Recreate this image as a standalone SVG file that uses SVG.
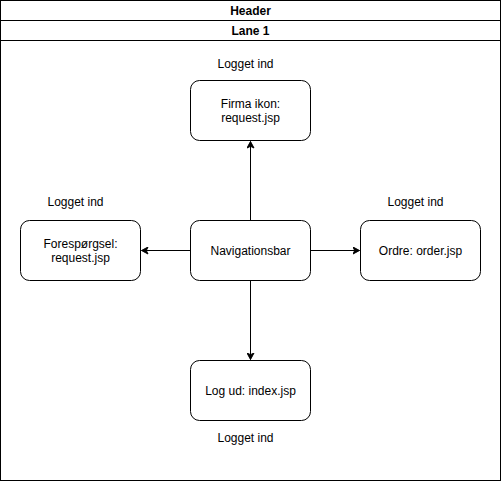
<svg xmlns="http://www.w3.org/2000/svg" width="501" height="481" viewBox="0 0 501 481">
<style>
text{font-family:"Liberation Sans",Arial,sans-serif;font-size:12px;fill:#000;text-anchor:middle}
.b{font-weight:bold}
.n{fill:#fff;stroke:#000;stroke-width:1}
.c{stroke:#000;stroke-width:1;fill:none;marker-end:url(#a)}
</style>
<defs>
<marker id="a" markerWidth="8" markerHeight="8" refX="7" refY="4" orient="auto" markerUnits="userSpaceOnUse">
<path d="M0.5,0.5 L7,4 L0.5,7.5 L2.2,4 Z" fill="#000" stroke="#000" stroke-width="1"/>
</marker>
</defs>
<rect width="501" height="481" fill="#fff"/>
<g id="pool">
<rect x="0.5" y="0.5" width="500" height="480" fill="#fff" stroke="#000"/>
<line x1="0.5" y1="20.5" x2="500.5" y2="20.5" stroke="#000"/>
<line x1="0.5" y1="40.5" x2="500.5" y2="40.5" stroke="#000"/>
<text class="b" x="250.5" y="15">Header</text>
<text class="b" x="250.5" y="35">Lane 1</text>
</g>
<g id="connectors">
<path class="c" d="M250.5,220.5 V141.5"/>
<path class="c" d="M190.5,250.5 H141.5"/>
<path class="c" d="M310.5,250.5 H359.5"/>
<path class="c" d="M250.5,280.5 V359.5"/>
</g>
<g id="nav">
<rect class="n" x="190.5" y="220.5" width="120" height="60" rx="9"/>
<text x="250.5" y="254.5">Navigationsbar</text>
</g>
<g id="firma">
<rect class="n" x="190.5" y="80.5" width="120" height="60" rx="9"/>
<text x="250.5" y="107.5">Firma ikon:</text>
<text x="250.5" y="121.5">request.jsp</text>
<text x="245.5" y="67.5">Logget ind</text>
</g>
<g id="forespoergsel">
<rect class="n" x="20.5" y="220.5" width="120" height="60" rx="9"/>
<text x="80.5" y="247.5">Forespørgsel:</text>
<text x="80.5" y="261.5">request.jsp</text>
<text x="75.5" y="205.5">Logget ind</text>
</g>
<g id="ordre">
<rect class="n" x="360.5" y="220.5" width="120" height="60" rx="9"/>
<text x="420.5" y="254.5">Ordre: order.jsp</text>
<text x="415.5" y="205.5">Logget ind</text>
</g>
<g id="logud">
<rect class="n" x="190.5" y="360.5" width="120" height="60" rx="9"/>
<text x="250.5" y="394.5">Log ud: index.jsp</text>
<text x="245.5" y="441.5">Logget ind</text>
</g>
</svg>
